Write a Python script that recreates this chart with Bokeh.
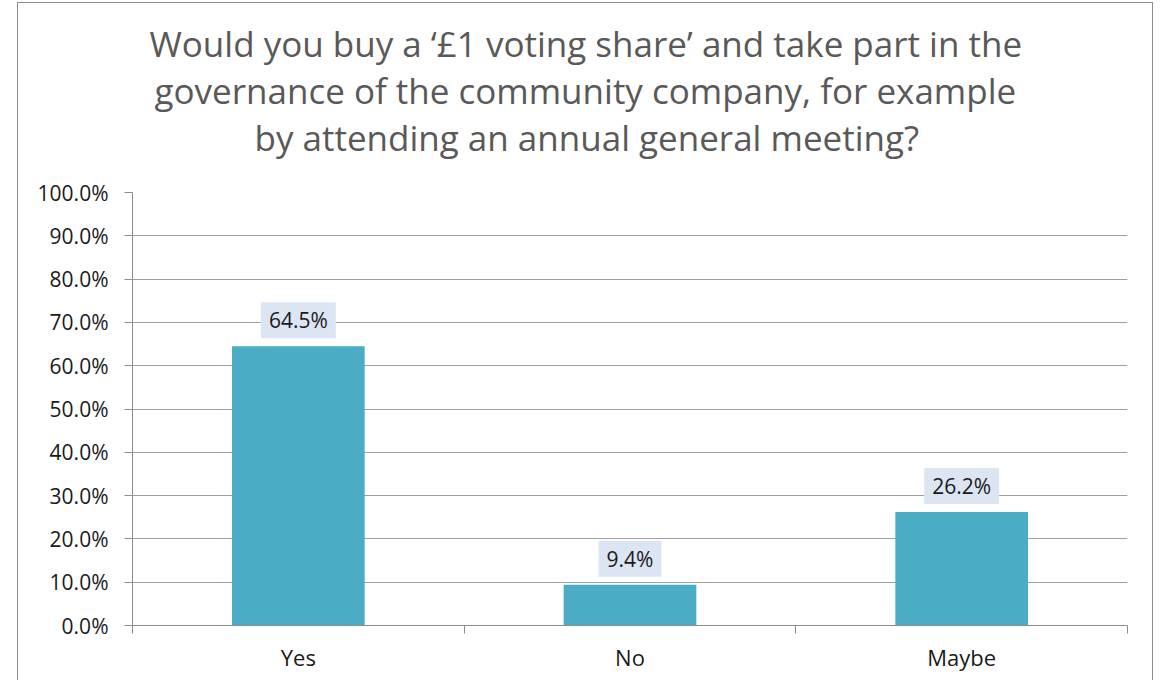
from bokeh.plotting import figure
from bokeh.layouts import row, column
from bokeh.models import ColumnDataSource, Label, FixedTicker, NumeralTickFormatter, Range1d, Title, Spacer
from bokeh.embed import file_html
from bokeh.resources import INLINE

categories = ["Yes", "No", "Maybe"]
shares = [0.645, 0.094, 0.262]
share_labels = ["64.5%", "9.4%", "26.2%"]
title_lines = [
    "Would you buy a \u2018\u00a31 voting share\u2019 and take part in the",
    "governance of the community company, for example",
    "by attending an annual general meeting?",
]
y_ticks = [0.0, 0.1, 0.2, 0.3, 0.4, 0.5, 0.6, 0.7, 0.8, 0.9, 1.0]

FONT = "Open Sans"

xs = [i + 0.5 for i in range(len(categories))]
src = ColumnDataSource(dict(x=xs, top=shares, label=share_labels, cat=categories))

p = figure(width=1136, height=678, output_backend="svg", toolbar_location=None,
           x_range=Range1d(0, len(categories)), y_range=Range1d(0, 1),
           min_border_left=114, min_border_right=27, min_border_top=189, min_border_bottom=56)
p.styles = {"border-left": "1px solid #8c8c8c", "border-top": "1px solid #8c8c8c",
            "border-right": "1px solid #8c8c8c"}
p.outline_line_color = None
p.background_fill_color = "white"
p.border_fill_color = "white"

# gap between the plot area and the title block
p.add_layout(Title(text=" ", text_font_size="1px", standoff=30), "above")
# title: three lines, added from the plot outward
title_offsets = [17, 22, 122]
for i in reversed(range(len(title_lines))):
    p.add_layout(Title(text=title_lines[i], align="left", offset=title_offsets[i],
                       standoff=-2, text_font=FONT, text_font_size="35px",
                       text_font_style="normal", text_color="#595959"), "above")

p.vbar(x="x", top="top", width=0.4, source=src, color="#4bacc6", line_color=None)

for x, top, lab in zip(xs, shares, share_labels):
    p.add_layout(Label(x=x, y=top, text=lab, text_align="center",
                       text_baseline="middle", y_offset=26, text_font=FONT, text_font_size="21px",
                       text_color="#1a1a1a", background_fill_color="#dce6f2", padding=(8, 4)))

# y axis
p.yaxis.ticker = FixedTicker(ticks=y_ticks)
p.yaxis.formatter = NumeralTickFormatter(format="0.0%")
p.yaxis.axis_line_color = "#8c8c8c"
p.yaxis.major_tick_line_color = "#8c8c8c"
p.yaxis.major_tick_out = 8
p.yaxis.major_tick_in = 0
p.yaxis.minor_tick_line_color = None
p.yaxis.major_label_text_font = FONT
p.yaxis.major_label_text_font_size = "21px"
p.yaxis.major_label_text_color = "#1a1a1a"
p.yaxis.major_label_standoff = 16

# x axis: labels at centres, ticks at boundaries
p.xaxis.ticker = FixedTicker(ticks=xs, minor_ticks=[float(i) for i in range(len(categories) + 1)])
p.xaxis.major_label_overrides = {x: c for x, c in zip(xs, categories)}
p.xaxis.axis_line_color = "#8c8c8c"
p.xaxis.major_tick_line_color = None
p.xaxis.minor_tick_line_color = "#8c8c8c"
p.xaxis.minor_tick_out = 8
p.xaxis.minor_tick_in = 0
p.xaxis.major_label_text_font = FONT
p.xaxis.major_label_text_font_size = "22px"
p.xaxis.major_label_text_color = "#1a1a1a"
p.xaxis.major_label_standoff = 8

p.xgrid.grid_line_color = None
p.ygrid.ticker = FixedTicker(ticks=y_ticks)
p.ygrid.grid_line_color = "#a0a0a0"
p.ygrid.grid_line_width = 1

layout = column(Spacer(width=1153, height=2), row(Spacer(width=17, height=678), p))

open("out.html", "w").write(file_html(layout, INLINE))
